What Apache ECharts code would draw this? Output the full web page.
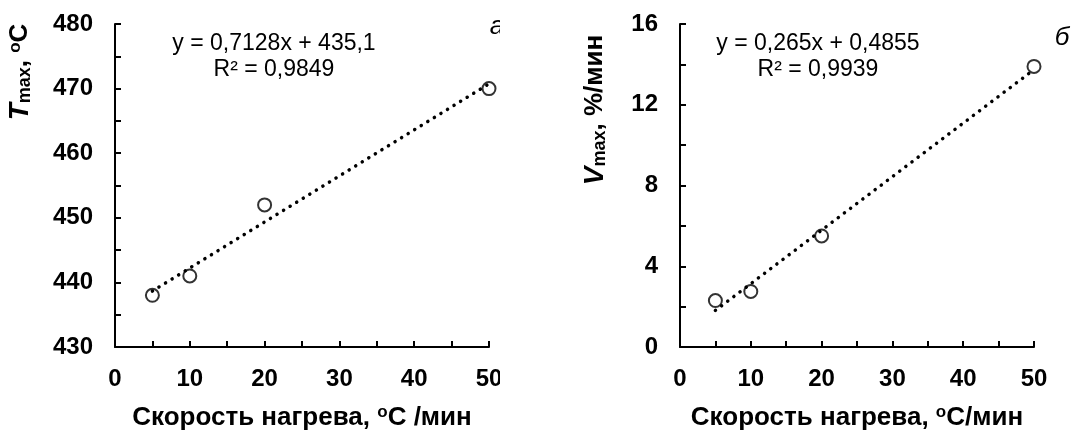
<!DOCTYPE html>
<html>
<head>
<meta charset="utf-8">
<script src="https://cdn.jsdelivr.net/npm/echarts@6/dist/echarts.min.js"></script>
<style>
  html, body { margin: 0; padding: 0; background: #fff; }
  #wrap { position: relative; width: 1072px; height: 432px; }
  #chartA { position: absolute; left: 0; top: 0; width: 500px; height: 432px; overflow: hidden; }
  #chartB { position: absolute; left: 500px; top: 0; width: 572px; height: 432px; }
</style>
</head>
<body>
<div id="wrap">
  <div id="chartA"></div>
  <div id="chartB"></div>
</div>
<script>
// скорость нагрева, oC/мин
var heatRates = [5, 10, 20, 50]
// а) температура максимума
var tMax = [438, 441, 452, 470]
// б) скорость максимума
var vMax = [2.3, 2.75, 5.5, 13.9]
// линии тренда (концы при x = 5 и x = 50, по уравнениям на рисунке)
var trendA = [[5, 438.66], [50, 470.74]]
var trendB = [[5, 1.81], [50, 13.74]]
var eqA = ['y = 0,7128x + 435,1', 'R² = 0,9849']
var eqB = ['y = 0,265x + 0,4855', 'R² = 0,9939']

var FONT = 'Liberation Sans, Arial, sans-serif'

function pairs(xs, ys) {
  return xs.map(function (x, i) { return [x, ys[i]] })
}

function axisBase(min, max, interval) {
  return {
    type: 'value',
    min: min,
    max: max,
    interval: interval,
    axisLine: { show: true, lineStyle: { color: '#000', width: 2 } },
    axisTick: { show: true, inside: true, length: 6, lineStyle: { color: '#000', width: 2 } },
    minorTick: { show: true, splitNumber: 2, length: 6, lineStyle: { color: '#000', width: 2 } },
    splitLine: { show: false },
    axisLabel: { color: '#000', fontFamily: FONT, fontWeight: 'bold', fontSize: 24 }
  }
}

function buildOption(p) {
  var xAxis = axisBase(0, 50, 10)
  xAxis.axisLabel.margin = 20
  xAxis.name = p.xName
  xAxis.nameLocation = 'middle'
  xAxis.nameGap = 57
  xAxis.nameTextStyle = {
    color: '#000', fontFamily: FONT, fontWeight: 'bold', fontSize: 26,
    rich: { sup: { fontFamily: FONT, fontWeight: 'bold', fontSize: 17, verticalAlign: 'top', padding: [0, 0, 10, 0] } }
  }
  var yAxis = axisBase(p.yMin, p.yMax, p.yInt)
  yAxis.axisLabel.margin = 22
  return {
    animation: false,
    backgroundColor: '#fff',
    grid: p.grid,
    xAxis: xAxis,
    yAxis: yAxis,
    graphic: p.graphic,
    series: [{
      name: 'trend',
      type: 'line',
      data: p.trend,
      showSymbol: false,
      symbol: 'none',
      silent: true,
      lineStyle: { color: '#000', width: 3.5, type: [0.1, 7.6], cap: 'round' },
      z: 2
    }, {
      name: 'data',
      type: 'scatter',
      data: p.points,
      symbol: 'circle',
      symbolSize: 13,
      itemStyle: { color: 'rgba(0,0,0,0)', borderColor: '#000', borderWidth: 2 },
      z: 3
    }]
  }
}

function textEl(x, y, text, font) {
  return {
    type: 'text',
    style: { x: x, y: y, text: text, fill: '#000', font: font + ' ' + FONT, align: 'center', verticalAlign: 'middle' },
    z: 10
  }
}

function yNameEl(x, y, letter, rest) {
  var richStyles = {
    big: { fontFamily: FONT, fontWeight: 'bold', fontStyle: 'italic', fontSize: 28 },
    sub: { fontFamily: FONT, fontWeight: 'bold', fontSize: 18, padding: [10, 0, 0, 0] },
    txt: { fontFamily: FONT, fontWeight: 'bold', fontSize: 26 },
    sup: { fontFamily: FONT, fontWeight: 'bold', fontSize: 17, padding: [0, 0, 10, 0] }
  }
  return {
    type: 'text',
    x: x,
    y: y,
    rotation: Math.PI / 2,
    style: { text: '{big|' + letter + '}{sub|max}{txt|, }' + rest, rich: richStyles, align: 'center', verticalAlign: 'middle', fill: '#000' },
    z: 10
  }
}

var chartA = echarts.init(document.getElementById('chartA'))
chartA.setOption(buildOption({
  grid: { left: 115, right: 11, top: 24, bottom: 85, outerBoundsMode: 'none', containLabel: false },
  yMin: 430, yMax: 480, yInt: 10,
  xName: 'Скорость нагрева, {sup|o}C /мин',
  points: pairs(heatRates, tMax),
  trend: trendA,
  graphic: [
    textEl(274, 44, eqA[0], '23px'),
    textEl(274, 70, eqA[1], '23px'),
    textEl(497, 27, 'а', 'italic 26px'),
    yNameEl(20, 72, 'T', '{sup|o}{txt|C}')
  ]
}))

var chartB = echarts.init(document.getElementById('chartB'))
chartB.setOption(buildOption({
  grid: { left: 180, right: 38, top: 24, bottom: 85, outerBoundsMode: 'none', containLabel: false },
  yMin: 0, yMax: 16, yInt: 4,
  xName: 'Скорость нагрева, {sup|o}C/мин',
  points: pairs(heatRates, vMax),
  trend: trendB,
  graphic: [
    textEl(318, 44, eqB[0], '23px'),
    textEl(318, 70, eqB[1], '23px'),
    textEl(562, 38, 'б', 'italic 26px'),
    yNameEl(95, 110, 'V', '{txt|%/мин}')
  ]
}))
</script>
</body>
</html>
